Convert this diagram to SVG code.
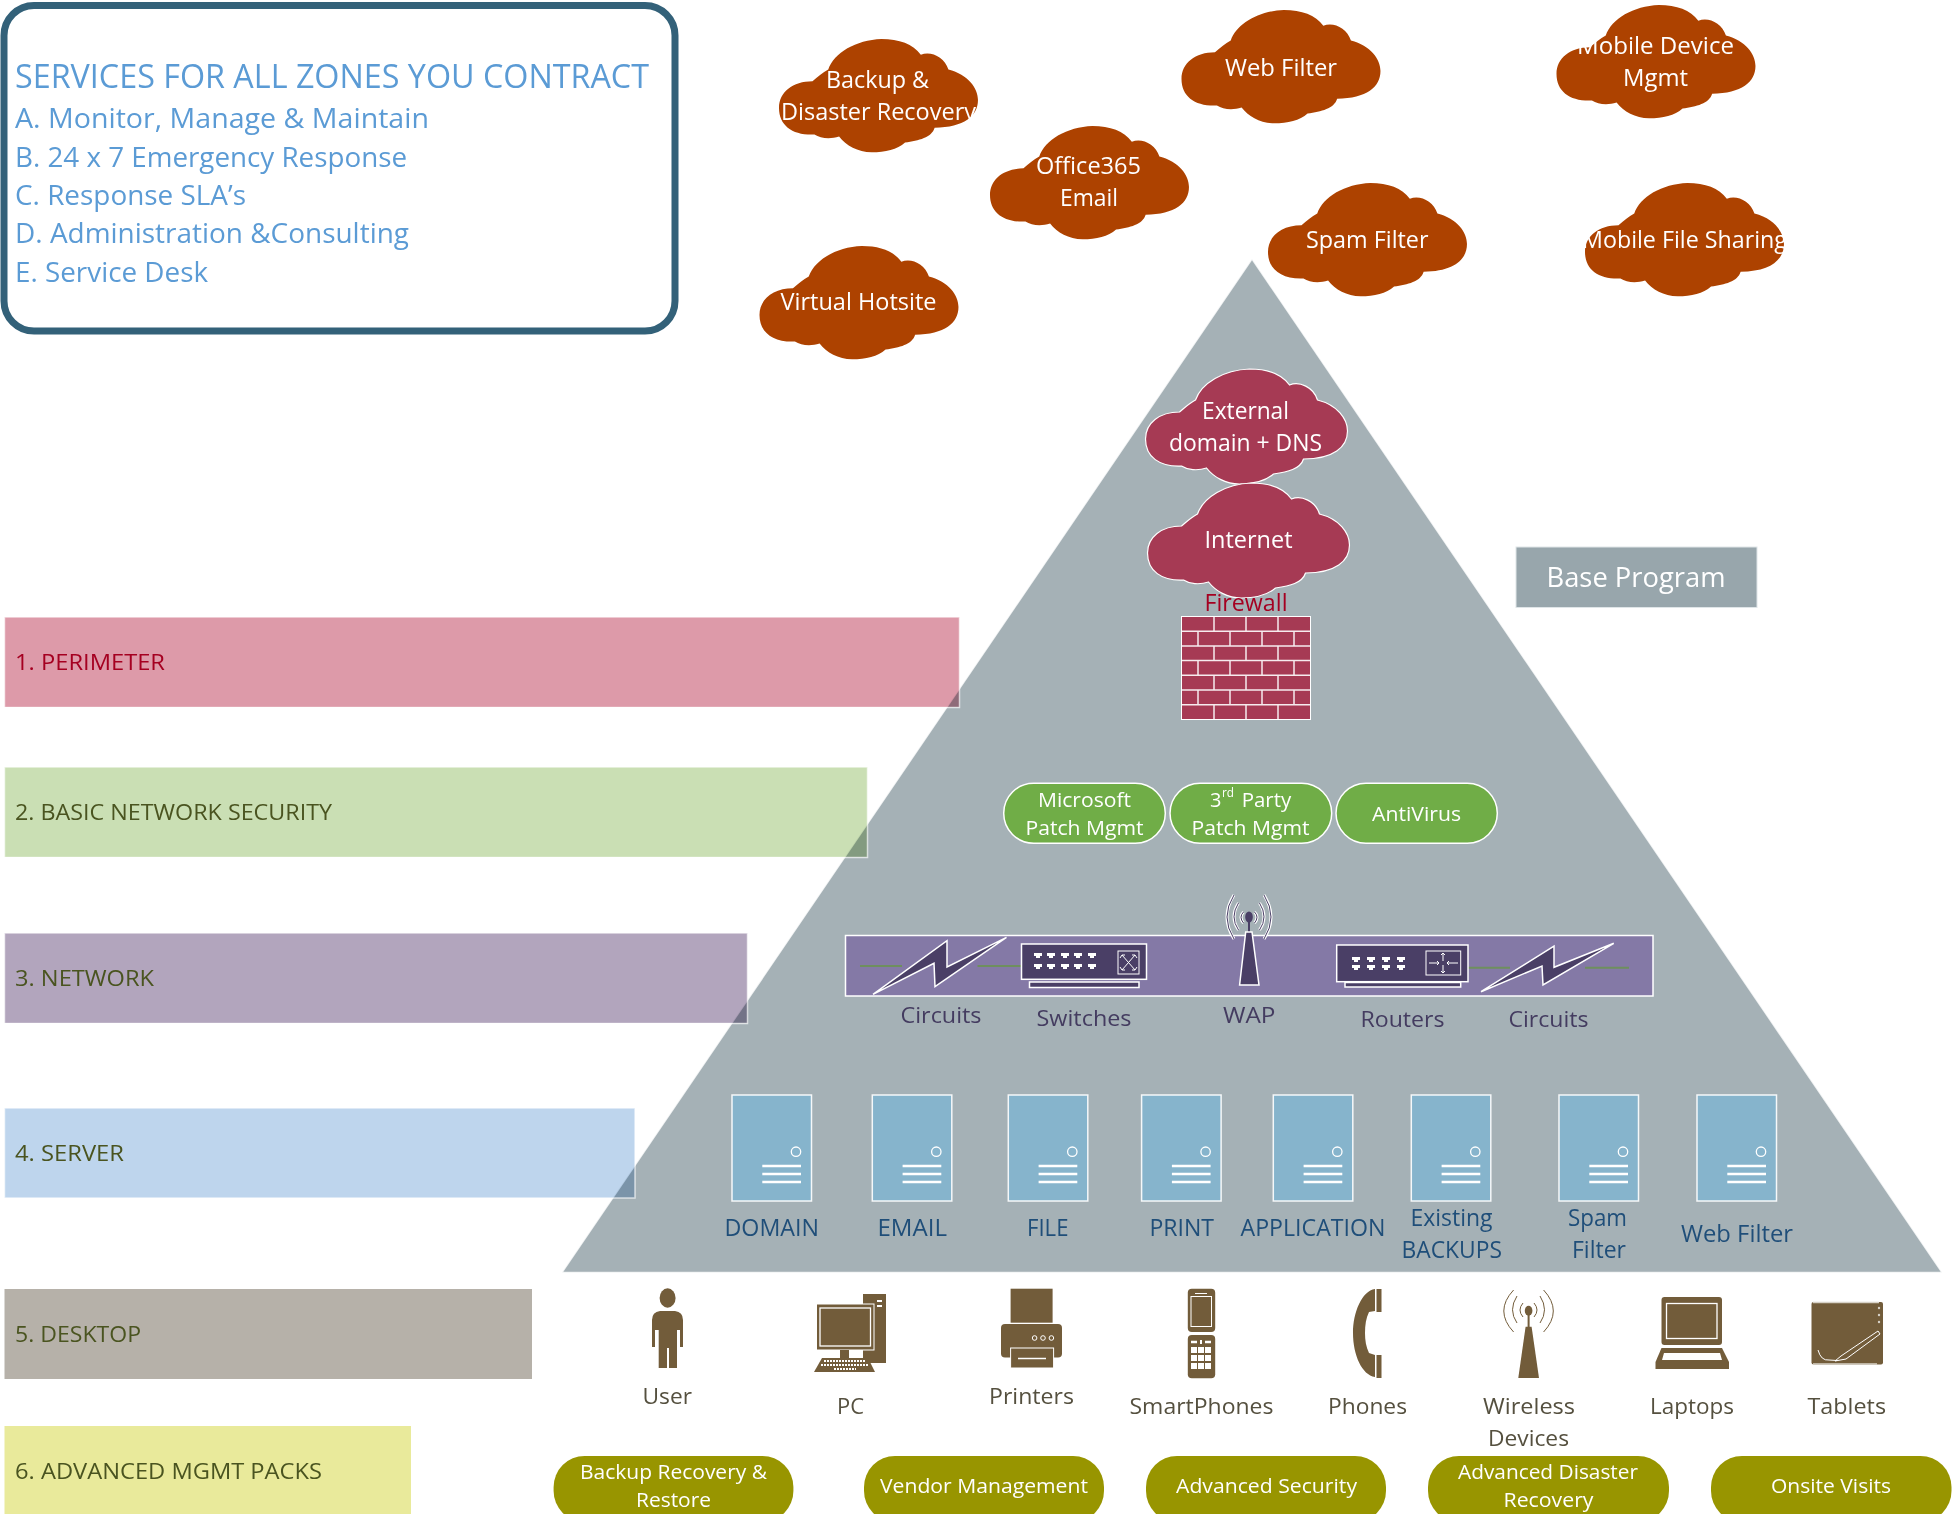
<svg xmlns="http://www.w3.org/2000/svg" xmlns:xlink="http://www.w3.org/1999/xlink" width="1952" height="1514" viewBox="0 0 1952 1514">
<style>
text{font-family:"Open Sans","Noto Sans","Liberation Sans",sans-serif;font-size:22.5px}
.head{fill:#5B9BD5;font-size:28px}
.title{fill:#5B9BD5;font-size:32.5px}
.row{mix-blend-mode:multiply}
.edge{fill:none;stroke:#fff;stroke-opacity:.65;stroke-width:1.5}
.rowt{fill:#4A5420}
.w{fill:#fff;font-size:23px}
.wp{fill:#fff;font-size:20px}
.brown{fill:#AD4200}
.mag{fill:#A63A54;stroke:#fff;stroke-width:1.2}
.gp{fill:#70AD47;stroke:#fff;stroke-width:1.5}
.op{fill:#989500}
.srv{fill:#86B4CC;stroke:#fff;stroke-width:1.5;stroke-opacity:.9}
.sl{stroke:#fff;stroke-width:2.5}
.st{fill:#1F4E79;font-size:23px}
.nt{fill:#443C60}
.dt{fill:#55503F}
.ic{fill:#725C3A}
.wl{fill:none;stroke:#fff;stroke-width:1.5}
.dk{fill:#4A3F66;stroke:#fff;stroke-width:1.5}
.arcw{fill:none;stroke:#fff;stroke-width:3}
.arcd{fill:none;stroke:#4A3F66;stroke-width:1}
.arcb{fill:none;stroke:#725C3A;stroke-width:1}
.link{stroke:#6E8F5E;stroke-width:2;fill:none}
</style>
<defs>
<path id="cloud" d="M34,43 C40,38 44,34 50,31 C56,14 78,1 104,0 C122,0 136,5 144,16 C154,12 168,18 172,31 C192,36 202,50 202,62 C202,78 188,90 158,90 C155,100 142,103 128,105 C120,112 108,115 94,115 C80,115 68,108 61,99 C52,102 42,101 36,97 C14,98 0,88 0,70 C0,54 14,43 34,43 Z"/>
<path id="port" d="M0,0 H8 V3 H6 V5 H2 V3 H0 Z" fill="#fff"/>
<g id="server">
<rect x="0" y="0" width="79.5" height="106" class="srv"/>
<circle cx="64" cy="56.7" r="4.7" fill="none" stroke="#fff" stroke-width="1.3"/>
<path class="sl" d="M30.3,71 H69 M30.3,79 H69 M30.3,87 H69"/>
</g>
</defs>

<g id="pyramid"><polygon points="1252,259 1942,1272.5 562,1272.5" fill="#A5B1B6" stroke="#fff" stroke-opacity=".8" stroke-width="1.5"/></g>

<g id="services-box">
<rect x="4" y="5.5" width="671" height="325.5" rx="30" fill="#fff" stroke="#336179" stroke-width="7"/>
<text class="title" x="15" y="88" textLength="634" lengthAdjust="spacingAndGlyphs">SERVICES FOR ALL ZONES YOU CONTRACT</text>
<text class="head" x="15" y="128" textLength="414" lengthAdjust="spacingAndGlyphs">A. Monitor, Manage &amp; Maintain</text>
<text class="head" x="15" y="167" textLength="392" lengthAdjust="spacingAndGlyphs">B. 24 x 7 Emergency Response</text>
<text class="head" x="15" y="205" textLength="231" lengthAdjust="spacingAndGlyphs">C. Response SLA’s</text>
<text class="head" x="15" y="243" textLength="394" lengthAdjust="spacingAndGlyphs">D. Administration &amp;Consulting</text>
<text class="head" x="15" y="282" textLength="193" lengthAdjust="spacingAndGlyphs">E. Service Desk</text>
</g>

<g id="row-1"><rect class="row" x="4.5" y="617" width="955" height="90" fill="#DD9AA9"/><rect class="edge" x="4.5" y="617" width="955" height="90.500"/>
<text x="15" y="669.500" fill="#A50021" textLength="150" lengthAdjust="spacingAndGlyphs">1. PERIMETER</text></g>
<g id="row-2"><rect class="row" x="4.5" y="767" width="863" height="90" fill="#CADFB4"/><rect class="edge" x="4.5" y="767" width="863" height="90.500"/>
<text class="rowt" x="15" y="820" textLength="317" lengthAdjust="spacingAndGlyphs">2. BASIC NETWORK SECURITY</text></g>
<g id="row-3"><rect class="row" x="4.5" y="933" width="743" height="90" fill="#B2A5BD"/><rect class="edge" x="4.5" y="933" width="743" height="90.500"/>
<text class="rowt" x="15" y="986" textLength="139" lengthAdjust="spacingAndGlyphs">3. NETWORK</text></g>
<g id="row-4"><rect class="row" x="4.5" y="1108" width="630.5" height="90" fill="#BED5ED"/><rect class="edge" x="4.5" y="1108" width="630.5" height="90"/>
<text class="rowt" x="15" y="1161" textLength="109" lengthAdjust="spacingAndGlyphs">4. SERVER</text></g>
<g id="row-5"><rect class="row" x="4.5" y="1289" width="527.5" height="90" fill="#B6B1A9"/>
<text class="rowt" x="15" y="1342" textLength="126" lengthAdjust="spacingAndGlyphs">5. DESKTOP</text></g>
<g id="row-6"><rect class="row" x="4.5" y="1426" width="406.5" height="88" fill="#E9EA9B"/>
<text class="rowt" x="15" y="1478.500" textLength="307" lengthAdjust="spacingAndGlyphs">6. ADVANCED MGMT PACKS</text></g>

<g id="cloud-backup"><use href="#cloud" class="brown" transform="translate(779,39) scale(.985)"/>
<text class="w" x="826" y="88" textLength="103" lengthAdjust="spacingAndGlyphs">Backup &amp;</text>
<text class="w" x="781" y="120" textLength="195" lengthAdjust="spacingAndGlyphs">Disaster Recovery</text></g>
<g id="cloud-office"><use href="#cloud" class="brown" transform="translate(990,126) scale(.985)"/>
<text class="w" x="1036" y="174" textLength="105" lengthAdjust="spacingAndGlyphs">Office365</text>
<text class="w" x="1060" y="206" textLength="58" lengthAdjust="spacingAndGlyphs">Email</text></g>
<g id="cloud-web"><use href="#cloud" class="brown" transform="translate(1181.5,10) scale(.985)"/>
<text class="w" x="1225" y="75.500" textLength="112" lengthAdjust="spacingAndGlyphs">Web Filter</text></g>
<g id="cloud-mobile-device"><use href="#cloud" class="brown" transform="translate(1556.500,5) scale(.985)"/>
<text class="w" x="1577" y="54" textLength="157" lengthAdjust="spacingAndGlyphs">Mobile Device</text>
<text class="w" x="1623" y="86" textLength="65" lengthAdjust="spacingAndGlyphs">Mgmt</text></g>
<g id="cloud-spam"><use href="#cloud" class="brown" transform="translate(1268,183) scale(.985)"/>
<text class="w" x="1306" y="248" textLength="122.500" lengthAdjust="spacingAndGlyphs">Spam Filter</text></g>
<g id="cloud-mobile-file"><use href="#cloud" class="brown" transform="translate(1585,183) scale(.985)"/>
<text class="w" x="1582" y="248" textLength="205" lengthAdjust="spacingAndGlyphs">Mobile File Sharing</text></g>
<g id="cloud-hotsite"><use href="#cloud" class="brown" transform="translate(759.500,246) scale(.985)"/>
<text class="w" x="780.500" y="310" textLength="156" lengthAdjust="spacingAndGlyphs">Virtual Hotsite</text></g>

<g id="cloud-dns"><use href="#cloud" class="mag" transform="translate(1145.5,369)"/>
<text class="w" x="1202" y="419" textLength="87" lengthAdjust="spacingAndGlyphs">External</text>
<text class="w" x="1169" y="451" textLength="153" lengthAdjust="spacingAndGlyphs">domain + DNS</text></g>
<g id="cloud-internet"><use href="#cloud" class="mag" transform="translate(1147.5,483)"/>
<text class="w" x="1204.500" y="548" textLength="88" lengthAdjust="spacingAndGlyphs">Internet</text></g>

<g id="firewall">
<text x="1204.500" y="611" fill="#A50021" textLength="83" lengthAdjust="spacingAndGlyphs" style="font-size:23px">Firewall</text>
<rect x="1181.5" y="616.5" width="129" height="103" fill="#A63A54" stroke="#fff" stroke-width="1"/>
<path stroke="#fff" stroke-opacity=".9" stroke-width="1.5" fill="none" d="M1181.5,631.2 H1310.5 M1181.5,645.9 H1310.5 M1181.5,660.6 H1310.5 M1181.5,675.3 H1310.5 M1181.5,690 H1310.5 M1181.5,704.7 H1310.5
M1214,616.5 V631.2 M1246,616.5 V631.2 M1278,616.5 V631.2 M1198,631.2 V645.9 M1230,631.2 V645.9 M1262,631.2 V645.9 M1294,631.2 V645.9
M1214,645.9 V660.6 M1246,645.9 V660.6 M1278,645.9 V660.6 M1198,660.6 V675.3 M1230,660.6 V675.3 M1262,660.6 V675.3 M1294,660.6 V675.3
M1214,675.3 V690 M1246,675.3 V690 M1278,675.3 V690 M1198,690 V704.7 M1230,690 V704.7 M1262,690 V704.7 M1294,690 V704.7
M1214,704.7 V719.5 M1246,704.7 V719.5 M1278,704.7 V719.5"/>
</g>

<g id="base-program"><rect x="1516" y="547" width="241" height="60.5" fill="#98A6AC" stroke="#dfe5e8" stroke-width="1"/>
<text x="1546.500" y="586.700" fill="#fff" style="font-size:27px" textLength="179" lengthAdjust="spacingAndGlyphs">Base Program</text></g>

<g id="pill-ms"><rect class="gp" x="1003.700" y="783.300" width="161.600" height="60" rx="30"/>
<text class="wp" x="1038" y="806.700" textLength="93" lengthAdjust="spacingAndGlyphs">Microsoft</text>
<text class="wp" x="1025.500" y="835" textLength="118" lengthAdjust="spacingAndGlyphs">Patch Mgmt</text></g>
<g id="pill-3rd"><rect class="gp" x="1170" y="783.300" width="161.700" height="60" rx="30"/>
<text class="wp" x="1210" y="806.700">3</text><text class="wp" x="1222" y="797" style="font-size:13px" textLength="12" lengthAdjust="spacingAndGlyphs">rd</text><text class="wp" x="1241.700" y="806.700" textLength="49.500" lengthAdjust="spacingAndGlyphs">Party</text>
<text class="wp" x="1191.500" y="835" textLength="118" lengthAdjust="spacingAndGlyphs">Patch Mgmt</text></g>
<g id="pill-av"><rect class="gp" x="1336" y="783.300" width="161.300" height="60" rx="30"/>
<text class="wp" x="1372" y="820.700" textLength="89" lengthAdjust="spacingAndGlyphs">AntiVirus</text></g>

<g id="network-band"><rect x="845.500" y="935.500" width="807.500" height="60.500" fill="#8479A6" stroke="#fff" stroke-width="1.5"/></g>
<g id="connectors">
<path class="link" d="M860,966 H902 M977.500,966 H1021 M1468,967.700 H1510 M1585,967.700 H1629"/>
</g>
<g id="circuit-1">
<polygon class="dk" points="873,994.300 947,940.700 947,967 1006.500,937.300 935,986.700 934,963.300"/>
<text class="nt" x="900.500" y="1022.500" textLength="81" lengthAdjust="spacingAndGlyphs">Circuits</text></g>
<g id="switches">
<rect class="dk" x="1021.500" y="944" width="125" height="35.300"/>
<rect class="dk" x="1029.500" y="982" width="109.500" height="5.500"/>
<use href="#port" x="1034" y="953"/><use href="#port" x="1047" y="953"/><use href="#port" x="1061" y="953"/><use href="#port" x="1074" y="953"/><use href="#port" x="1088" y="953"/>
<use href="#port" x="1034" y="964"/><use href="#port" x="1047" y="964"/><use href="#port" x="1061" y="964"/><use href="#port" x="1074" y="964"/><use href="#port" x="1088" y="964"/>
<rect x="1118" y="951" width="21" height="23" fill="#4A3F66" stroke="#fff" stroke-width="1"/>
<path class="wl" style="stroke-width:1" d="M1122,955 L1135,970 M1135,955 L1122,970 M1120,958 L1122,955 L1125,955 M1137,958 L1135,955 L1132,955 M1120,967 L1122,970 L1125,970 M1137,967 L1135,970 L1132,970"/>
<text class="nt" x="1036.500" y="1025.500" textLength="95" lengthAdjust="spacingAndGlyphs">Switches</text></g>
<g id="wap">
<path class="arcw" d="M1234,895 Q1220,917 1234,939 M1264,895 Q1278,917 1264,939 M1238.500,903 Q1229.500,917 1238.500,930 M1259.500,903 Q1268.500,917 1259.500,930 M1243.500,912 Q1238.500,917 1243.500,923 M1254.500,912 Q1259.500,917 1254.500,923"/>
<path class="arcd" d="M1234,895 Q1220,917 1234,939 M1264,895 Q1278,917 1264,939 M1238.500,903 Q1229.500,917 1238.500,930 M1259.500,903 Q1268.500,917 1259.500,930 M1243.500,912 Q1238.500,917 1243.500,923 M1254.500,912 Q1259.500,917 1254.500,923"/>
<rect x="1248" y="920" width="2" height="13" fill="#4A3F66"/>
<ellipse cx="1249" cy="917" rx="3.800" ry="5.500" fill="#4A3F66"/>
<polygon class="dk" points="1245.700,932 1252,932 1259,985 1239.600,985"/>
<text class="nt" x="1223" y="1022.500" textLength="52.500" lengthAdjust="spacingAndGlyphs">WAP</text></g>
<g id="routers">
<rect class="dk" x="1336.700" y="945" width="131.300" height="36.700"/>
<rect class="dk" x="1345" y="982.500" width="115.700" height="4.500"/>
<use href="#port" x="1352" y="957"/><use href="#port" x="1367" y="957"/><use href="#port" x="1382" y="957"/><use href="#port" x="1397" y="957"/>
<use href="#port" x="1352" y="965"/><use href="#port" x="1367" y="965"/><use href="#port" x="1382" y="965"/><use href="#port" x="1397" y="965"/>
<rect x="1426" y="951" width="34.700" height="24" fill="#4A3F66" stroke="#fff" stroke-width="1"/>
<path class="wl" style="stroke-width:1" d="M1443,953 V961 M1441,955 L1443,953 L1445,955 M1443,965 V973 M1441,971 L1443,973 L1445,971 M1429,963 H1439 M1437,961 L1439,963 L1437,965 M1447,963 H1458 M1449,961 L1447,963 L1449,965"/>
<text class="nt" x="1360.500" y="1026.500" textLength="84" lengthAdjust="spacingAndGlyphs">Routers</text></g>
<g id="circuit-2"><polygon class="dk" points="1481,991.700 1554,946 1554,967.300 1613.800,943.300 1543,985 1542,966"/>
<text class="nt" x="1508.500" y="1026.500" textLength="80" lengthAdjust="spacingAndGlyphs">Circuits</text></g>

<g id="srv-domain"><use href="#server" x="732" y="1095"/><text class="st" x="724.500" y="1236" textLength="94.500" lengthAdjust="spacingAndGlyphs">DOMAIN</text></g>
<g id="srv-email"><use href="#server" x="872.300" y="1095"/><text class="st" x="877.500" y="1236" textLength="69.500" lengthAdjust="spacingAndGlyphs">EMAIL</text></g>
<g id="srv-file"><use href="#server" x="1008.300" y="1095"/><text class="st" x="1027" y="1236" textLength="41.500" lengthAdjust="spacingAndGlyphs">FILE</text></g>
<g id="srv-print"><use href="#server" x="1141.600" y="1095"/><text class="st" x="1149.500" y="1236" textLength="64.500" lengthAdjust="spacingAndGlyphs">PRINT</text></g>
<g id="srv-app"><use href="#server" x="1273.300" y="1095"/><text class="st" x="1240.500" y="1236" textLength="145" lengthAdjust="spacingAndGlyphs">APPLICATION</text></g>
<g id="srv-backups"><use href="#server" x="1411.300" y="1095"/><text class="st" x="1410.500" y="1226" textLength="82" lengthAdjust="spacingAndGlyphs">Existing</text><text class="st" x="1401.500" y="1258" textLength="100.500" lengthAdjust="spacingAndGlyphs">BACKUPS</text></g>
<g id="srv-spam"><use href="#server" x="1559" y="1095"/><text class="st" x="1568" y="1226" textLength="59" lengthAdjust="spacingAndGlyphs">Spam</text><text class="st" x="1572" y="1258" textLength="54" lengthAdjust="spacingAndGlyphs">Filter</text></g>
<g id="srv-web"><use href="#server" x="1697" y="1095"/><text class="st" x="1681" y="1242" textLength="112" lengthAdjust="spacingAndGlyphs">Web Filter</text></g>

<g id="user">
<ellipse class="ic" cx="667.600" cy="1298" rx="8" ry="9.700"/>
<path class="ic" d="M660,1311 H675 Q683,1312 683,1320 V1347 H680 V1330 H677 V1368 H669 V1348 H667 V1368 H658.700 V1330 H655 V1347 H652 V1320 Q652,1312 660,1311 Z"/>
<text class="dt" x="642.500" y="1403.500" textLength="49.500" lengthAdjust="spacingAndGlyphs">User</text></g>
<g id="pc">
<rect class="ic" x="863" y="1294" width="23" height="69"/>
<rect x="877" y="1300" width="5" height="2" fill="#fff"/><rect x="877" y="1305" width="5" height="2" fill="#fff"/>
<rect class="ic" x="816.500" y="1304" width="57.500" height="46" stroke="#fff" stroke-width="1"/>
<rect x="820" y="1308" width="50.500" height="38" fill="#725C3A" stroke="#fff" stroke-width="1.300"/>
<rect class="ic" x="840" y="1350" width="9" height="8"/>
<polygon class="ic" points="814,1372 822,1358 868,1358 875,1372"/>
<path stroke="#fff" stroke-width="2" stroke-dasharray="2 1" fill="none" d="M824,1361 H865 M821,1365 H868 M834,1369 H856"/>
<text class="dt" x="837" y="1413.500" textLength="27" lengthAdjust="spacingAndGlyphs">PC</text></g>
<g id="printers">
<rect class="ic" x="1010.600" y="1288.700" width="42" height="34"/>
<rect class="ic" x="1001" y="1324" width="61" height="33.500" rx="4"/>
<rect class="ic" x="1010.600" y="1348" width="43" height="20" stroke="#fff" stroke-width="1"/>
<path d="M1018,1358.500 H1046" stroke="#fff" stroke-width="1.500"/>
<g fill="none" stroke="#fff" stroke-width="1"><circle cx="1034.600" cy="1338" r="2.300"/><circle cx="1043" cy="1338" r="2.300"/><circle cx="1051.400" cy="1338" r="2.300"/></g>
<text class="dt" x="989" y="1403.500" textLength="85" lengthAdjust="spacingAndGlyphs">Printers</text></g>
<g id="smartphones">
<rect class="ic" x="1187.800" y="1288.700" width="27.400" height="43.300" rx="4"/>
<rect x="1191" y="1296.500" width="20.500" height="30" fill="none" stroke="#fff" stroke-width="1"/>
<path d="M1195,1293.500 H1207" stroke="#fff" stroke-width="1"/>
<rect class="ic" x="1187.800" y="1335" width="27.400" height="43.300" rx="4"/>
<path d="M1191,1342 H1197 M1205,1342 H1211" stroke="#fff" stroke-width="2.500"/><path d="M1201,1340 V1344" stroke="#fff" stroke-width="2"/>
<g fill="#fff"><rect x="1191" y="1347" width="6" height="6"/><rect x="1198" y="1347" width="6" height="6"/><rect x="1205" y="1347" width="6" height="6"/><rect x="1191" y="1355" width="6" height="6"/><rect x="1198" y="1355" width="6" height="6"/><rect x="1205" y="1355" width="6" height="6"/><rect x="1191" y="1363" width="6" height="6"/><rect x="1198" y="1363" width="6" height="6"/><rect x="1205" y="1363" width="6" height="6"/></g>
<text class="dt" x="1129.500" y="1413.500" textLength="144" lengthAdjust="spacingAndGlyphs">SmartPhones</text></g>
<g id="phones">
<path class="ic" d="M1375,1289 C1362,1291 1353,1312 1353,1333 C1353,1355 1362,1375 1375,1377 L1375,1355 L1369,1353 C1366,1347 1365,1340 1365,1333 C1365,1325 1366,1318 1369,1312 L1375,1311 Z"/>
<rect class="ic" x="1376.500" y="1289" width="5" height="23"/><rect class="ic" x="1376.500" y="1355" width="5" height="23"/>
<text class="dt" x="1328" y="1413.500" textLength="79" lengthAdjust="spacingAndGlyphs">Phones</text></g>
<g id="wireless">
<path class="arcb" d="M1513.600,1290 Q1494,1311 1513.600,1332 M1543.600,1290 Q1563,1311 1543.600,1332 M1517,1296 Q1508,1310 1517,1323 M1540,1296 Q1549,1310 1540,1323 M1523,1303 Q1517,1310 1523,1317 M1534,1303 Q1540,1310 1534,1317"/>
<ellipse class="ic" cx="1528.600" cy="1310.700" rx="3.800" ry="5"/><rect class="ic" x="1527.600" y="1314" width="2" height="13"/>
<polygon class="ic" points="1525.600,1326.700 1531.600,1326.700 1539,1378 1518.300,1378"/>
<text class="dt" x="1483" y="1413.500" textLength="92" lengthAdjust="spacingAndGlyphs">Wireless</text>
<text class="dt" x="1488" y="1445.500" textLength="81" lengthAdjust="spacingAndGlyphs">Devices</text></g>
<g id="laptops">
<rect class="ic" x="1661.500" y="1297" width="60.500" height="48" rx="3"/>
<rect x="1666.500" y="1303.500" width="50.500" height="35" fill="none" stroke="#fff" stroke-width="1.300"/>
<polygon class="ic" points="1661.500,1348 1722,1348 1729,1362 1729,1369 1655.500,1369 1655.500,1362"/>
<polygon fill="#fff" points="1664,1353 1720,1353 1722,1360 1662,1360"/>
<text class="dt" x="1650" y="1413.500" textLength="84" lengthAdjust="spacingAndGlyphs">Laptops</text></g>
<g id="tablets">
<rect class="ic" x="1811.500" y="1302" width="71.500" height="62.500" rx="2"/>
<path d="M1813,1302.500 H1879 M1813,1364 H1877" stroke="#d8d2c8" stroke-width="1.500"/>
<g fill="#d8d2c8"><circle cx="1879" cy="1308" r="1.200"/><circle cx="1879" cy="1315" r="1.200"/><circle cx="1879" cy="1322" r="1.200"/></g>
<path class="wl" style="stroke-width:1" d="M1878,1331 L1841,1356 L1835,1361 L1846,1359 L1880,1334 Z M1818,1350 Q1821,1361 1829,1360 L1837,1360.500"/>
<text class="dt" x="1807.500" y="1413.500" textLength="78.500" lengthAdjust="spacingAndGlyphs">Tablets</text></g>

<g id="pack-backup"><rect class="op" x="553.600" y="1456" width="239.800" height="66" rx="31"/>
<text class="wp" x="580" y="1479" textLength="187" lengthAdjust="spacingAndGlyphs">Backup Recovery &amp;</text>
<text class="wp" x="636" y="1507" textLength="75" lengthAdjust="spacingAndGlyphs">Restore</text></g>
<g id="pack-vendor"><rect class="op" x="864" y="1456" width="240" height="66" rx="31"/>
<text class="wp" x="880" y="1492.700" textLength="208" lengthAdjust="spacingAndGlyphs">Vendor Management</text></g>
<g id="pack-security"><rect class="op" x="1146" y="1456" width="240" height="66" rx="31"/>
<text class="wp" x="1176" y="1492.700" textLength="181" lengthAdjust="spacingAndGlyphs">Advanced Security</text></g>
<g id="pack-disaster"><rect class="op" x="1428" y="1456" width="241" height="66" rx="31"/>
<text class="wp" x="1458" y="1479" textLength="180" lengthAdjust="spacingAndGlyphs">Advanced Disaster</text>
<text class="wp" x="1503.500" y="1506.700" textLength="90" lengthAdjust="spacingAndGlyphs">Recovery</text></g>
<g id="pack-onsite"><rect class="op" x="1711" y="1456" width="240.500" height="66" rx="31"/>
<text class="wp" x="1771" y="1492.700" textLength="120" lengthAdjust="spacingAndGlyphs">Onsite Visits</text></g>
</svg>
